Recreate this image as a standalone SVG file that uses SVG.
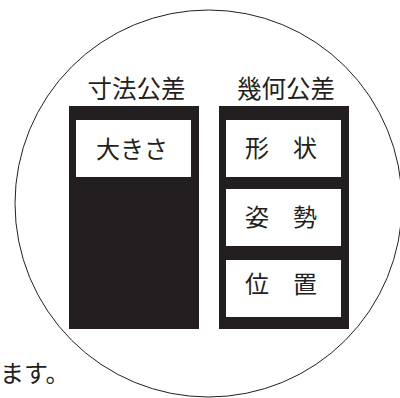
<svg xmlns="http://www.w3.org/2000/svg" width="400" height="398" viewBox="0 0 400 398">
<style>
text{font-family:"Noto Sans CJK JP","Noto Sans CJK SC",sans-serif;fill:#231f20;}
.h{font-size:24.5px;text-anchor:middle;}
.b{font-size:24px;text-anchor:middle;}
.dark{fill:#231f20;}
.inner{fill:#ffffff;}
</style>
<rect width="400" height="398" fill="#ffffff"/>
<circle cx="208.5" cy="203.5" r="193.5" fill="none" stroke="#231f20" stroke-width="1"/>
<text x="0" y="382" style="font-size:24px;">ます。</text>
<g id="dimensional">
<text class="h" x="136.5" y="98">寸法公差</text>
<rect class="dark" x="69" y="106" width="130" height="223"/>
<g id="size">
<rect class="inner" x="76" y="120" width="115" height="57"/>
<text class="b" x="132" y="158">大きさ</text>
</g>
</g>
<g id="geometric">
<text class="h" x="286" y="98">幾何公差</text>
<rect class="dark" x="219" y="106" width="130" height="223"/>
<g id="form">
<rect class="inner" x="226" y="120" width="115" height="57"/>
<text class="b" x="281" y="157">形　状</text>
</g>
<g id="orientation">
<rect class="inner" x="226" y="189" width="115" height="57"/>
<text class="b" x="281" y="226">姿　勢</text>
</g>
<g id="location">
<rect class="inner" x="226" y="260" width="115" height="57"/>
<text class="b" x="281" y="293">位　置</text>
</g>
</g>
<g id="connectors"></g>
</svg>
